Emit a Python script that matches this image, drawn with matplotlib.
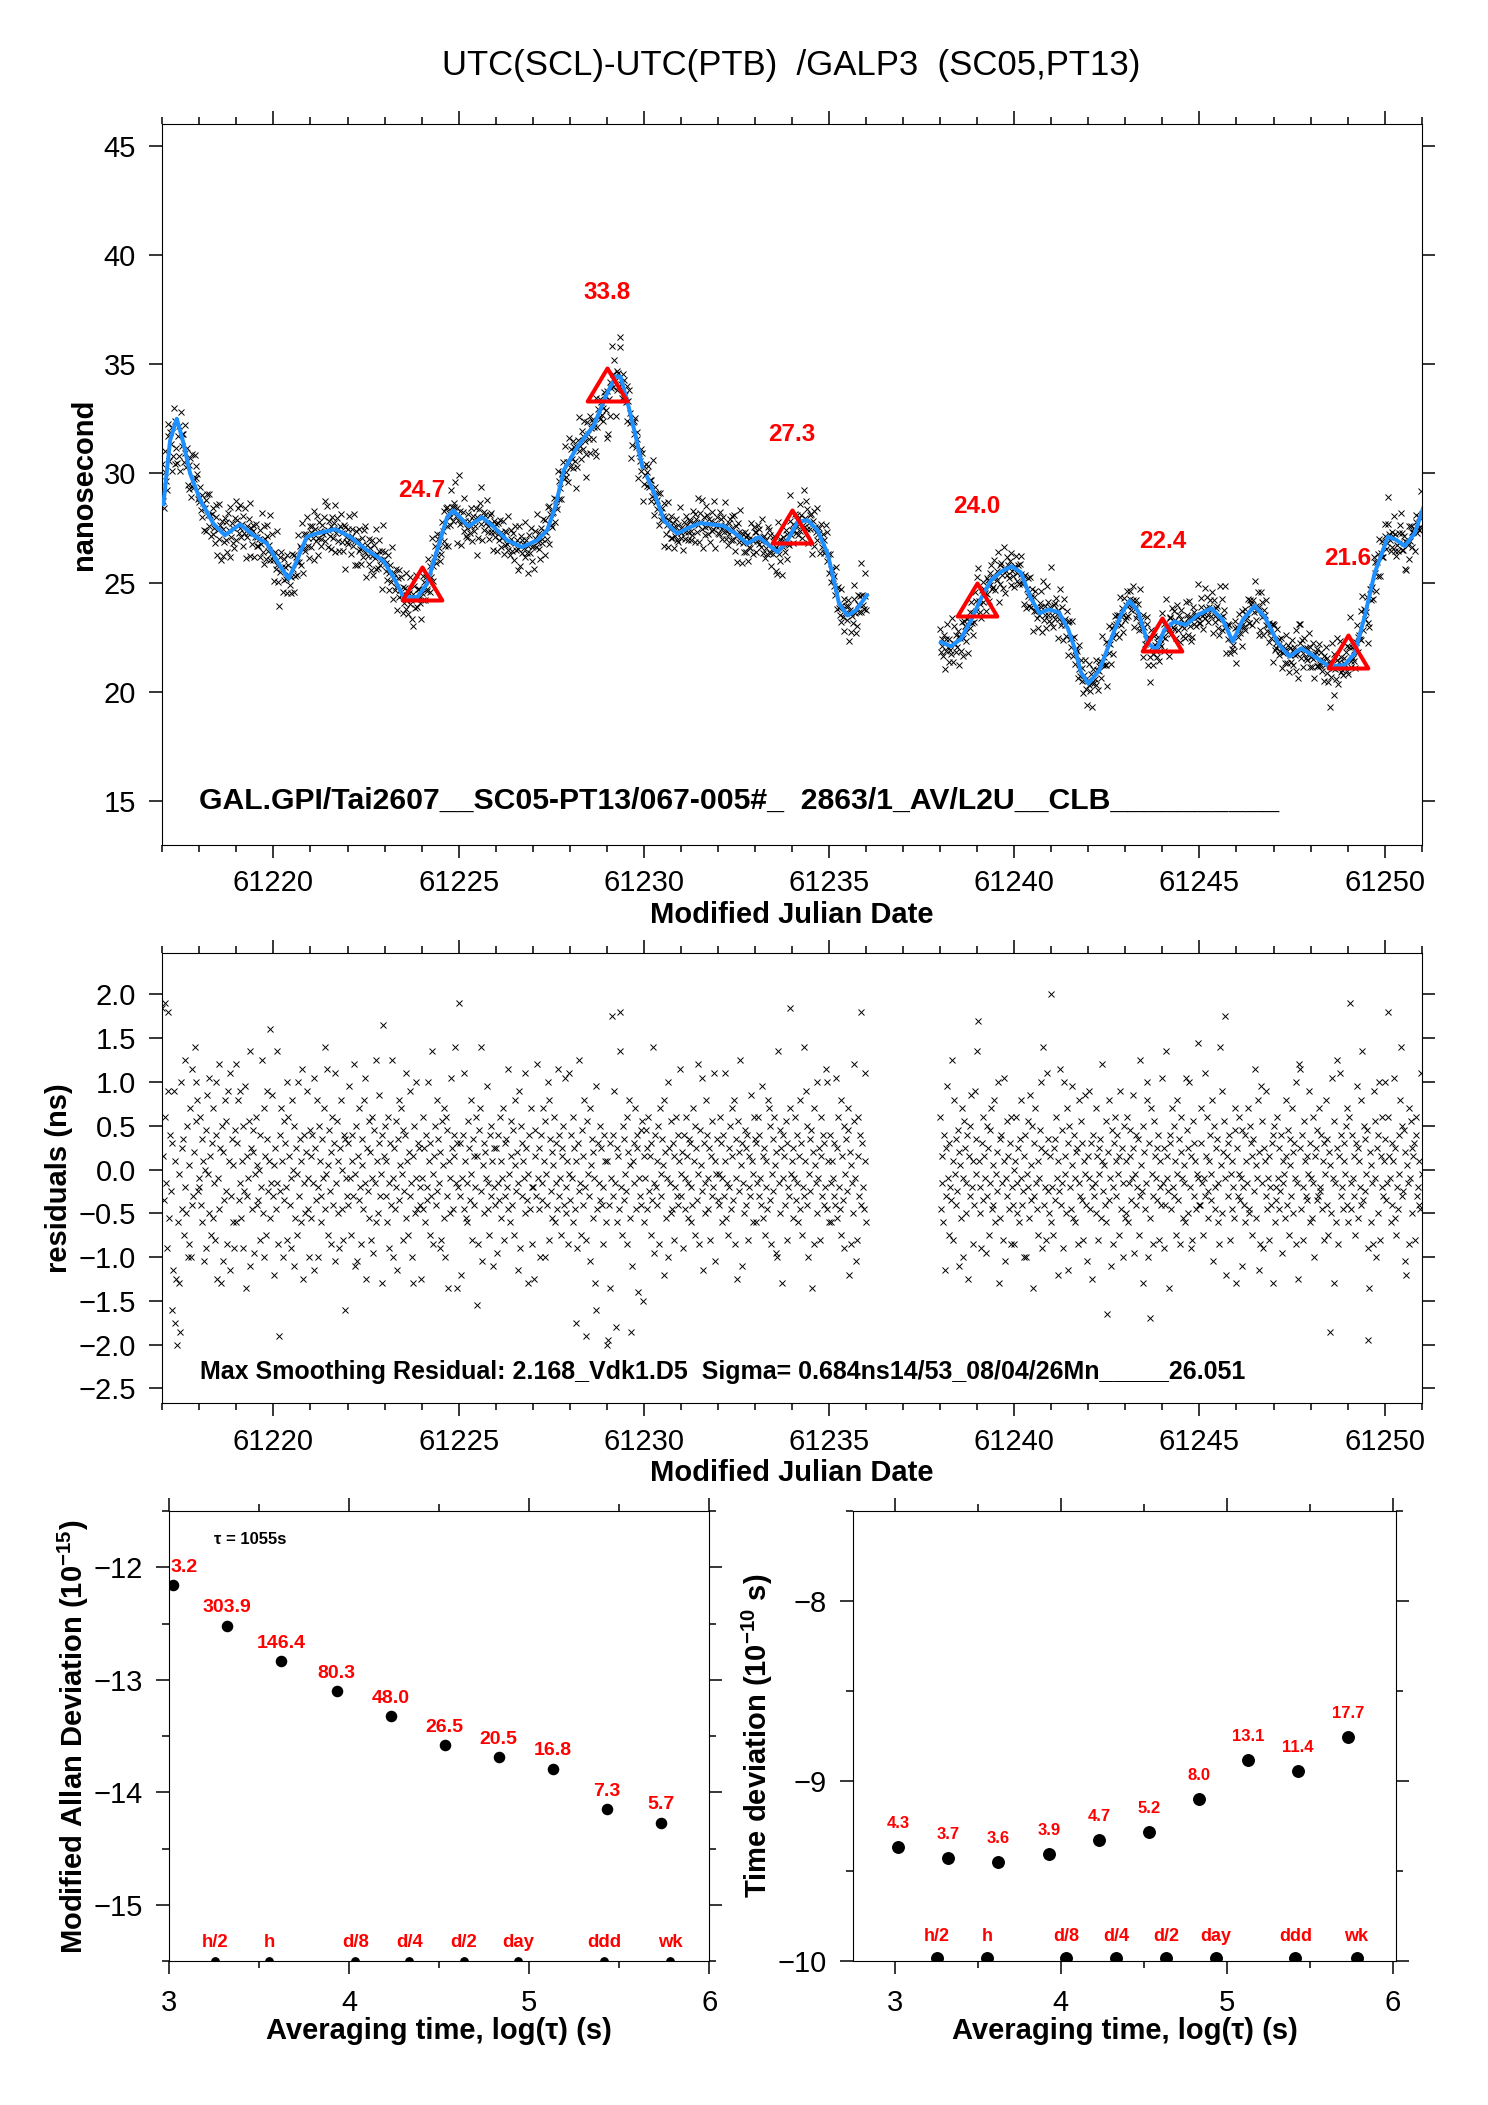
import numpy as np
import matplotlib
matplotlib.use('Agg')
import matplotlib.pyplot as plt
from matplotlib.ticker import MultipleLocator, FuncFormatter
from matplotlib.markers import MarkerStyle
from matplotlib.path import Path

plt.rcParams['font.family'] = ['Liberation Sans', 'DejaVu Sans']
plt.rcParams['mathtext.fontset'] = 'custom'
plt.rcParams['mathtext.rm'] = 'Liberation Sans'
plt.rcParams['mathtext.bf'] = 'Liberation Sans:bold'
plt.rcParams['axes.unicode_minus'] = True

# ---------------- data ----------------
# smoothed curve (blue), segment 1 (NaN = small break) and segment 2
curve1_mjd = [61217.03, 61217.21, 61217.39, 61217.57, 61217.75, 61218.02, 61218.38, 61218.69,
              61219.10, 61219.46, 61219.82, 61220.14, 61220.41, 61220.63, 61220.90, 61221.17,
              61221.67, 61222.07, 61222.52, 61222.97, 61223.24, 61223.51, 61223.88, 61224.15,
              61224.42, 61224.69, 61224.86, 61225.27, 61225.63, 61225.95, 61226.31, 61226.71,
              61227.12, 61227.39, 61227.61, 61227.84, 61228.20, 61228.65, 61229.01, 61229.24,
              61229.37, 61229.59, 61229.78, 61229.96, 61230.02, 61230.09, 61230.32, 61230.54,
              61230.90, 61231.26, 61231.53, 61232.16, 61232.48, 61232.79, 61233.11, 61233.38,
              61233.61, 61233.88, 61234.15, 61234.42, 61234.69, 61234.96, 61235.09, 61235.27,
              61235.50, 61235.72, 61236.02]
curve1_ns = [28.6, 31.5, 32.5, 31.4, 30.0, 28.8, 27.7, 27.17,
             27.67, 27.17, 26.8, 25.87, 25.18, 26.0, 27.1, 27.25,
             27.45, 27.1, 26.5, 26.0, 25.26, 24.34, 24.34, 24.95,
             26.5, 28.0, 28.3, 27.58, 28.0, 27.55, 26.94, 26.63,
             26.94, 27.4, 28.47, 30.15, 31.2, 32.2, 33.67, 34.43,
             34.43, 33.05, 31.7, 30.3, float('nan'), 29.84, 28.93, 27.86,
             27.25, 27.55, 27.73, 27.6, 27.25, 26.79, 27.09, 26.71,
             26.4, 26.94, 27.78, 27.86, 27.4, 26.33, 25.41, 24.04,
             23.5, 23.73, 24.42]
curve2_mjd = [61238.02, 61238.29, 61238.56, 61238.83, 61239.10, 61239.37, 61239.64, 61239.93,
              61240.18, 61240.43, 61240.68, 61240.92, 61241.20, 61241.45, 61241.65, 61241.80,
              61242.00, 61242.30, 61242.50, 61242.70, 61242.90, 61243.11, 61243.34, 61243.61,
              61243.84, 61244.05, 61244.32, 61244.64, 61244.96, 61245.32, 61245.63, 61245.90,
              61246.17, 61246.49, 61246.76, 61247.12, 61247.43, 61247.75, 61248.11, 61248.51,
              61248.92, 61249.19, 61249.46, 61249.73, 61250.09, 61250.31, 61250.54, 61250.81,
              61251.04]
curve2_ns = [22.28, 22.09, 22.43, 23.27, 24.27, 25.1, 25.5, 25.75,
             25.47, 24.35, 23.6, 23.78, 23.65, 22.9, 21.9, 20.9,
             20.38, 21.0, 21.9, 22.8, 23.6, 24.17, 23.7, 22.23,
             21.93, 22.84, 23.22, 23.07, 23.53, 23.83, 23.3, 22.3,
             23.3, 23.94, 23.45, 22.23, 21.62, 22.0, 21.62, 21.16,
             21.24, 21.77, 23.45, 25.44, 27.11, 26.96, 26.68, 27.26,
             28.41]

tri_mjd = [61224, 61229, 61234, 61239, 61244, 61249]
tri_ns = [24.7, 33.8, 27.3, 24.0, 22.4, 21.6]
tri_labels = ['24.7', '33.8', '27.3', '24.0', '22.4', '21.6']

# residuals (ns), one character per epoch; code index 0..80 = -2.0 .. +2.0 ns in 0.05 ns steps
RES_CODE = "0123456789ABCDEFGHIJKLMNOPQRSTUVWXYZabcdefghijklmnopqrstuvwxyz!#$%&()*+,-./:;<=>?"
seg1_span = (61217.0, 61236.0)
seg2_span = (61238.0, 61251.0)
resid_seg1 = (
    "<hX=qbM;wTmZ8kHw5gF0SdE3yVjlPa%UoKfNsKW#Yi)ypuZc"
    "aqWlSgJenMvdUzhPkTsbOmyFcV$jEoJiXuZpNwgH!YlSfMn$"
    "SkuXbwTgMoZxDhYcpI(jVniLdqWfXemOa%UsKhPlwZgT-bvY"
    "GfjV(bN2mZsgKpXkaOyqhWcMueIoTjdPyYlSg#FbmUiwVcKn"
    "hTmbHzjXuaKogSYlcs)Vd#PfnZNiqWkJ!bpUgMjuVeOm8lcY"
    "WkxcPmgY$dIoJhXsaNlfVubzFjZpTiOqcLnbS%gUkvYdmE.h"
    "oYgSqbMkW%cKjVpaHluXfsdOnZm!TgPiwYbKhEoUcyVkjWaF"
    "cVqjSmaXygPkY(dNhoWuZlbMiOpfTsKqYnDgcUzjVhm)bDka"
    "=YkGcmV!gTbSpjXudOlhWaq9hNnsZ)JfkUicxVbPmoYgIjaW"
    "jLbmXqgTcsOkYlaV#dShpWnPufZiHbwMokYgcU!jXdEmVsaN"
    "aFhnY$cVjKmbXsgKpdWyOulZiTfqSkbV#YmcPjhoWzaUgN!d"
    "XmcSqjV5gMkZ%bPnWhuaO2pdYsJflTicE8xVkbXojWaNmgS0"
    "g1WkDc:mYwb4SjhV(;aPolXdZqNiuTf3IgkbsVmjCcYnWpAh"
    "ScnVjqZhPkX)bLmaWgoNsdYlfGuiTcyKjbUpVkhOaqYmWg#d"
    "YiMmcVqhbTlkSaWsgPojX$dNnfZzHkbUumVcjOhYpa!gJdlX"
    "dWqkScmY!gTbPjaoVshXuNlcFpiZ%fIkbUnjWmOhaYvgSdql"
    "kSbqYmcWxhTjPgaVusXoNdlZqfLiK(bUnjEmchWpOkaYs<dg"
    "TjcqXmbShuVkPaY)gwWoKdlZnDisNfbUycjOqhYmWka#VygS"
    "mbSgcYkWzjTqaVPuhXoMdlZnsGifNbU$pcJOqhYmW;kaVg!S")
resid_seg2 = (
    "qVhbSmHjYxcPkaX%gOudWlZnIifTscKpjUbmFhoYvaNgWwdl"
    "(/gUaMkqXhcLoYjPnbsVfWuSdiZyElTmbOzgJcpYhVkNqaWe"
    "NgqbUjSlcuWZhKmKdpaTvfXoDkYsbVgPcnyjM)WaiO!ZlUhS"
    "?aPjlXqcGgZ#WnbMyhdUskHoaVfxTmcSijNubYpXkOgvdWJh"
    "wcVkFamYbsUhOjdlTg$ZfWpS7iXucInNakqYgmdPhwVjbKoT"
    "gUqSbnhXcvjLdmWalP%YfZoEiVbyuKkT6sdNYphcXjmOgaWz"
    "bMjW(hcZDmkVsaYogPduXlNiqcTfbSznUjyaMhOpkYgVd*cW"
    "WksbPc!YhqTZgmXduJoaVjlSbN)fwUip:cGhkYmOdVgaTnsE"
    "jYdqXcInaWmSgbsVUokhPlZ#fTcuHiNxbpMjgYwVcOhaWkmE"
    "oSaXqcjVZmLgbdTuhWnPflYsiUkcNybF$#jVmaOpgYhXdwkS"
    "cTbqKhjXnYsaZmVgkOduWlPi3fUzcEpbSj%Nh!YmaVkgdoWs"
    "Sq=bVmcYhPkxjTgaWu(XolZdnM1DifSbNwpcKjUmyOhqaYgy"
    "lXbq;hcSWkgzTjPaVmdu)YoZnJiGfbsNcpjUhkOmqYaWgV!d")

# stability analysis
logtau = [3.02, 3.32, 3.62, 3.93, 4.23, 4.53, 4.83, 5.13, 5.43, 5.73]
mdev = [-12.156, -12.518, -12.837, -13.10, -13.323, -13.58, -13.69, -13.79, -14.15, -14.27]
mdev_labels = ['3.2', '303.9', '146.4', '80.3', '48.0', '26.5', '20.5', '16.8', '7.3', '5.7']
tdev = [-9.367, -9.43, -9.448, -9.406, -9.328, -9.285, -9.098, -8.886, -8.947, -8.754]
tdev_labels = ['4.3', '3.7', '3.6', '3.9', '4.7', '5.2', '8.0', '13.1', '11.4', '17.7']
ref_logtau = [3.255, 3.556, 4.033, 4.334, 4.635, 4.936, 5.414, 5.782]
ref_labels = ['h/2', 'h', 'd/8', 'd/4', 'd/2', 'day', 'ddd', 'wk']

title = "UTC(SCL)-UTC(PTB)  /GALP3  (SC05,PT13)"
info_top = "GAL.GPI/Tai2607__SC05-PT13/067-005#_  2863/1_AV/L2U__CLB__________"
info_mid = "Max Smoothing Residual: 2.168_Vdk1.D5  Sigma= 0.684ns14/53_08/04/26Mn_____26.051"

# ---------------- derived series ----------------
def decode(s):
    return (np.array([RES_CODE.index(c) for c in s]) - 40) * 0.05

r1 = decode(resid_seg1)
r2 = decode(resid_seg2)
t1 = np.linspace(seg1_span[0], seg1_span[1], len(r1))
t2 = np.linspace(seg2_span[0], seg2_span[1], len(r2))

c1t = np.array(curve1_mjd); c1v = np.array(curve1_ns)
c2t = np.array(curve2_mjd); c2v = np.array(curve2_ns)
ok1 = ~np.isnan(c1v)
raw1 = np.interp(t1, c1t[ok1], c1v[ok1]) + r1
raw2 = np.interp(t2, c2t, c2v) + r2

# ---------------- figure ----------------
W, H = 1488, 2105
fig = plt.figure(figsize=(W / 100, H / 100), dpi=100)

def rect(l, t, r, b):
    return [l / W, 1 - b / H, (r - l) / W, (b - t) / H]

def px(x, y):
    return x / W, 1 - y / H

RED = '#ff0000'
BLUE = '#1e90ff'

def style(ax, xpad, ypad):
    ax.tick_params(which='both', direction='out', top=True, right=True,
                   labelsize=21, width=1.1)
    ax.tick_params(which='major', length=9.5)
    ax.tick_params(which='minor', length=5)
    ax.tick_params(axis='x', pad=xpad)
    ax.tick_params(axis='y', pad=ypad)
    for s in ax.spines.values():
        s.set_linewidth(0.8)

MS_X = 3.9
MEW_X = 0.7

# ---- top panel ----
ax1 = fig.add_axes(rect(162.3, 123.7, 1421.7, 845))
ax1.plot(t1, raw1, 'x', color='k', ms=MS_X, mew=MEW_X, zorder=2)
ax1.plot(t2, raw2, 'x', color='k', ms=MS_X, mew=MEW_X, zorder=2)
ax1.plot(c1t, c1v, '-', color=BLUE, lw=2.9, zorder=3)
ax1.plot(c2t, c2v, '-', color=BLUE, lw=2.9, zorder=3)
tri = MarkerStyle(Path([(0, 2 / 3), (-0.6, -1 / 3), (0.6, -1 / 3), (0, 2 / 3)],
                       [Path.MOVETO, Path.LINETO, Path.LINETO, Path.CLOSEPOLY]),
                  joinstyle='miter')
ax1.plot(tri_mjd, tri_ns, linestyle='none', marker=tri, ms=31.7, mfc='none',
         mec=RED, mew=2.9, zorder=4)
for xm, v, lab in zip(tri_mjd, tri_ns, tri_labels):
    ax1.text(xm, v + 4.5, lab, color=RED, fontsize=17.5, fontweight='bold',
             ha='center', va='center', zorder=5)
ax1.set_xlim(61217, 61251)
ax1.set_ylim(13.0, 46.0)
ax1.xaxis.set_major_locator(MultipleLocator(5))
ax1.xaxis.set_minor_locator(MultipleLocator(1))
ax1.yaxis.set_major_locator(MultipleLocator(5))
ax1.xaxis.set_major_formatter(FuncFormatter(lambda v, p: f'{v:.0f}'))
style(ax1, 8, 9.5)
ax1.text(0.029, 15.0, info_top, transform=ax1.get_yaxis_transform(),
         fontsize=21.7, fontweight='bold', ha='left', va='center')

# ---- residual panel ----
ax2 = fig.add_axes(rect(162.3, 953.3, 1421.7, 1403.3))
ax2.plot(t1, r1, 'x', color='k', ms=MS_X, mew=MEW_X)
ax2.plot(t2, r2, 'x', color='k', ms=MS_X, mew=MEW_X)
ax2.set_xlim(61217, 61251)
ax2.set_ylim(-2.67, 2.47)
ax2.xaxis.set_major_locator(MultipleLocator(5))
ax2.xaxis.set_minor_locator(MultipleLocator(1))
ax2.set_yticks([-2.5, -2.0, -1.5, -1.0, -0.5, 0.0, 0.5, 1.0, 1.5, 2.0])
ax2.xaxis.set_major_formatter(FuncFormatter(lambda v, p: f'{v:.0f}'))
ax2.yaxis.set_major_formatter(FuncFormatter(lambda v, p: f'{v:.1f}'.replace('-', '\u2212')))
style(ax2, 8, 9.5)
ax2.text(0.03, -2.31, info_mid, transform=ax2.get_yaxis_transform(),
         fontsize=18, fontweight='bold', ha='left', va='center')

# ---- MDEV panel ----
ax3 = fig.add_axes(rect(169.3, 1511, 709.3, 1961))
ax3.plot(logtau, mdev, 'o', color='k', ms=7.3, zorder=3)
ax3.plot(ref_logtau, [-15.5] * len(ref_logtau), 'o', color='k', ms=5.3, zorder=3)
for i, (x, v, lab) in enumerate(zip(logtau, mdev, mdev_labels)):
    if i == 0:
        ax3.annotate(lab, (3.0, v), xytext=(1, 12.7), textcoords='offset points',
                     color=RED, fontsize=14, fontweight='bold', ha='left', va='center')
    else:
        ax3.annotate(lab, (x, v), xytext=(0, 12.7), textcoords='offset points',
                     color=RED, fontsize=14, fontweight='bold', ha='center', va='center')
for x, lab in zip(ref_logtau, ref_labels):
    ax3.annotate(lab, (x, -15.5), xytext=(0, 13), textcoords='offset points',
                 color=RED, fontsize=13.3, fontweight='bold', ha='center', va='center')
ax3.set_xlim(3, 6)
ax3.set_ylim(-15.5, -11.5)
ax3.xaxis.set_major_locator(MultipleLocator(1))
ax3.xaxis.set_minor_locator(MultipleLocator(0.5))
ax3.yaxis.set_major_locator(MultipleLocator(1))
ax3.yaxis.set_minor_locator(MultipleLocator(0.5))
style(ax3, 11, 9.6)
ax3.text(0.0833, 0.9356, '\u03c4 = 1055s', transform=ax3.transAxes, fontsize=12,
         fontweight='bold', ha='left', va='center')

# ---- TDEV panel ----
ax4 = fig.add_axes(rect(853.3, 1511, 1396, 1961))
ax4.plot(logtau, tdev, 'o', color='k', ms=8.3, zorder=3)
ax4.plot(ref_logtau, [-9.985] * len(ref_logtau), 'o', color='k', ms=8.3, zorder=3)
for x, v, lab in zip(logtau, tdev, tdev_labels):
    ax4.annotate(lab, (x, v), xytext=(0, 17), textcoords='offset points',
                 color=RED, fontsize=12, fontweight='bold', ha='center', va='center')
for x, lab in zip(ref_logtau, ref_labels):
    ax4.annotate(lab, (x, -10.0), xytext=(0, 17.5), textcoords='offset points',
                 color=RED, fontsize=13, fontweight='bold', ha='center', va='center')
ax4.set_xlim(2.75, 6.02)
ax4.set_ylim(-10, -7.5)
ax4.xaxis.set_major_locator(MultipleLocator(1))
ax4.xaxis.set_minor_locator(MultipleLocator(0.5))
ax4.yaxis.set_major_locator(MultipleLocator(1))
ax4.yaxis.set_minor_locator(MultipleLocator(0.5))
style(ax4, 11, 9.6)

# ---- labels ----
fig.text(*px(791, 65), title, fontsize=25, ha='center', va='center')
fig.text(*px(84, 484), 'nanosecond', fontsize=21, fontweight='bold',
         rotation=90, ha='center', va='center')
fig.text(*px(792, 915), 'Modified Julian Date', fontsize=21, fontweight='bold',
         ha='center', va='center')
fig.text(*px(59, 1178), 'residuals (ns)', fontsize=21, fontweight='bold',
         rotation=90, ha='center', va='center')
fig.text(*px(792, 1473), 'Modified Julian Date', fontsize=21, fontweight='bold',
         ha='center', va='center')
fig.text(*px(73, 1737), r'Modified Allan Deviation (10$^{\mathbf{-15}}$)', fontsize=21,
         fontweight='bold', rotation=90, ha='center', va='center')
fig.text(*px(757, 1736), r'Time deviation (10$^{\mathbf{-10}}$ s)', fontsize=21,
         fontweight='bold', rotation=90, ha='center', va='center')
fig.text(*px(439, 2031), 'Averaging time, log(\u03c4) (s)', fontsize=21, fontweight='bold',
         ha='center', va='center')
fig.text(*px(1125, 2031), 'Averaging time, log(\u03c4) (s)', fontsize=21, fontweight='bold',
         ha='center', va='center')

fig.savefig('out.png', dpi=100)
